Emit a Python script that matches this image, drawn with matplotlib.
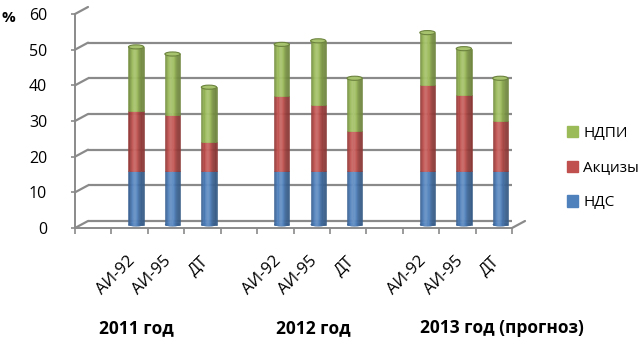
import numpy as np
import matplotlib
matplotlib.use("Agg")
import matplotlib.pyplot as plt
from matplotlib.patches import Ellipse, Patch
from matplotlib.transforms import ScaledTranslation

plt.rcParams['font.family'] = ['Open Sans', 'DejaVu Sans']

# data
years = ['2011 год', '2012 год', '2013 год (прогноз)']
fuels = ['АИ-92', 'АИ-95', 'ДТ']
nds = [15, 15, 15, 15, 15, 15, 15, 15, 15]
akcizy = [16.8, 15.8, 8, 21, 18.5, 11.2, 24, 21.3, 14]
ndpi = [18, 17, 15.5, 14.5, 18, 14.8, 14.8, 13, 12]
series_names = ['НДС', 'Акцизы', 'НДПИ']
colors = ['#4F81BD', '#C0504D', '#9BBB59']
grid_color = '#8a8a8a'

# slots: an empty slot in front of each group of three
positions = [1, 2, 3, 5, 6, 7, 9, 10, 11]

DPI = 100
fig = plt.figure(figsize=(6.44, 3.38), dpi=DPI)
ax = fig.add_axes([75 / 644, 110 / 338, 437 / 644, 214 / 338])
ax.set_xlim(-0.5, 11.5)
ax.set_ylim(0, 60)


def shifted(dx, dy):
    return ax.transData + ScaledTranslation(dx / DPI, dy / DPI, fig.dpi_scale_trans)


mid = shifted(6.5, 3.5)
back = shifted(13, 7)

# back wall grid + left wall slants
for v in range(0, 61, 10):
    ax.plot([-0.5, 11.5], [v, v], color=grid_color, lw=1.6, transform=back,
            solid_capstyle='butt', zorder=1)
    ax.annotate('', xy=(-0.5, v), xytext=(13 * 0.72, 7 * 0.72), textcoords='offset points',
                arrowprops=dict(arrowstyle='-', color=grid_color, lw=1.6, shrinkA=0, shrinkB=0),
                zorder=1)
ax.annotate('', xy=(11.5, 0), xytext=(13 * 0.72, 7 * 0.72), textcoords='offset points',
            arrowprops=dict(arrowstyle='-', color=grid_color, lw=1.6, shrinkA=0, shrinkB=0),
            zorder=1)


def shade(c, f):
    c = np.array(matplotlib.colors.to_rgb(c))
    if f >= 1:
        return tuple(c + (1 - c) * (f - 1))
    return tuple(c * f)


# cylinders drawn as thin strips for some shading
bw = 0.42
n_strips = 14
bottoms = np.zeros(len(positions))
ell_h = 1.15
for x in positions:
    ax.add_patch(Ellipse((x, 0), bw, ell_h, facecolor=shade(colors[0], 0.85),
                         edgecolor='none', transform=mid, zorder=2))
for vals, col in zip([nds, akcizy, ndpi], colors):
    for i in range(n_strips):
        t = (i + 0.5) / n_strips * 2 - 1
        f = 0.72 + 0.42 * np.exp(-((t + 0.2) / 0.55) ** 2)
        c = shade(col, f)
        offs = (t * bw / 2)
        ax.bar(np.array(positions) + offs, vals, width=bw / n_strips, bottom=bottoms,
               color=c, edgecolor=c, linewidth=0.4, transform=mid, zorder=3)
    bottoms = bottoms + np.array(vals)
for x, top in zip(positions, bottoms):
    ax.add_patch(Ellipse((x, top), bw, ell_h, facecolor=shade(colors[2], 1.12),
                         edgecolor=shade(colors[2], 0.7), lw=0.8, transform=mid, zorder=4))

# axes styling
for s in ['top', 'right']:
    ax.spines[s].set_visible(False)
for s in ['left', 'bottom']:
    ax.spines[s].set_color(grid_color)
    ax.spines[s].set_linewidth(1.4)
ax.set_yticks(range(0, 61, 10))
ax.set_xticks(np.arange(-0.5, 12, 1))
ax.set_xticklabels([])
ax.tick_params(axis='y', length=3, width=1.2, color=grid_color, pad=17, labelsize=11.5)
ax.tick_params(axis='x', length=4, width=1.2, color=grid_color)
ax.set_facecolor('none')

lab_tr = shifted(3, -31)
for i, x in enumerate(positions):
    ax.text(x, 0, fuels[i % 3], transform=lab_tr, rotation=45, rotation_mode='anchor',
            ha='right', va='center', fontsize=12)

for name, xp in zip(years, [136, 313, 502]):
    fig.text(xp / 644, 10 / 338, name, ha='center', va='center', fontsize=12.5,
             fontweight='bold')
fig.text(1 / 644, 1 - 18 / 338, '%', ha='left', va='center', fontsize=11, fontweight='bold')

handles = [Patch(color=c) for c in colors][::-1]
ax.legend(handles, series_names[::-1], loc='center left', frameon=False,
          bbox_to_anchor=(567 / 644, 1 - 168 / 338), bbox_transform=fig.transFigure,
          borderaxespad=0, borderpad=0,
          handlelength=0.75, handleheight=0.75, handletextpad=0.3, labelspacing=1.3,
          fontsize=11)

fig.savefig('out.png', dpi=DPI)
